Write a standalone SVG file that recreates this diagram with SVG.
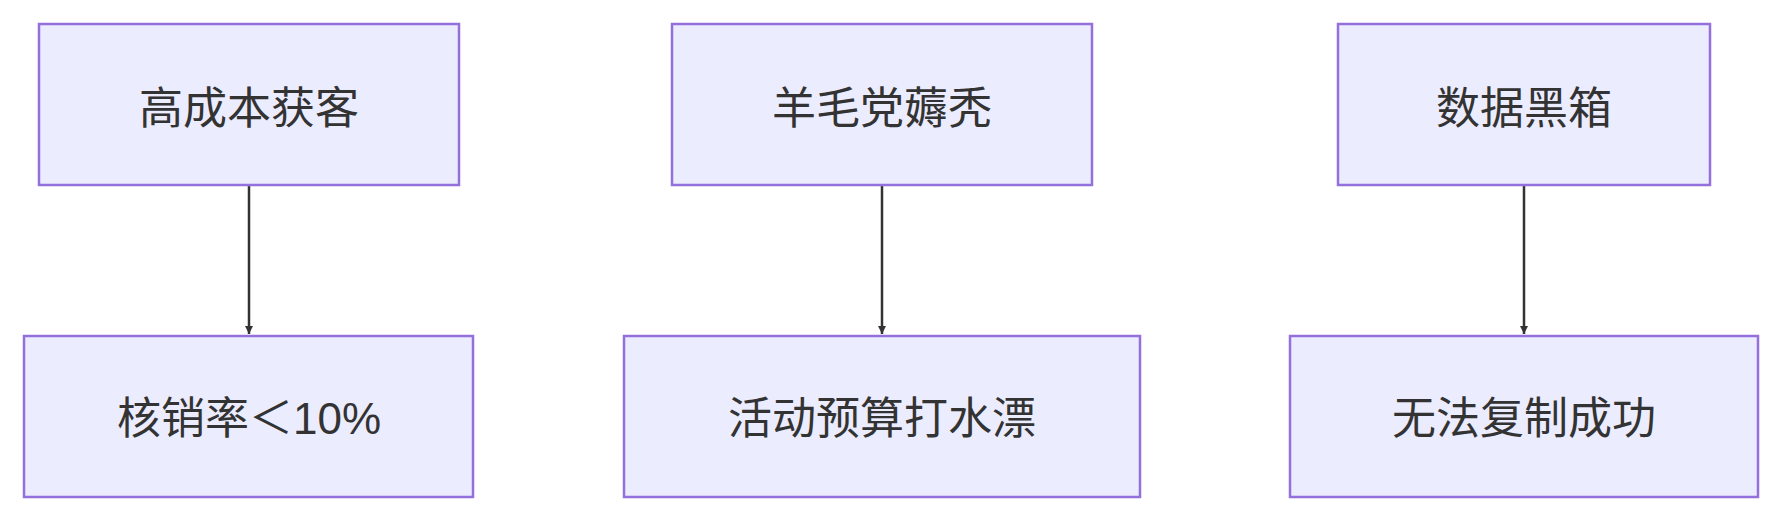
<svg xmlns="http://www.w3.org/2000/svg" width="1782" height="522" viewBox="0 0 1782 522">
<defs>
<style>
.n{fill:#ECECFF;stroke:#9370DB;stroke-width:2.5}
.t{font-family:"Liberation Sans","Noto Sans CJK SC",sans-serif;font-size:44px;fill:#333;text-anchor:middle;dominant-baseline:central}
.e{stroke:#333;stroke-width:2.5;fill:none}
</style>
<marker id="a" viewBox="0 0 10 10" refX="10" refY="5" markerWidth="8" markerHeight="9" markerUnits="userSpaceOnUse" orient="auto"><path d="M0 0L10 5L0 10z" fill="#333"/></marker>
</defs>
<rect width="1782" height="522" fill="#fff"/>
<g id="edges">
<path class="e" d="M249 185V334" marker-end="url(#a)"/>
<path class="e" d="M882 185V334" marker-end="url(#a)"/>
<path class="e" d="M1524 185V334" marker-end="url(#a)"/>
</g>
<g id="n1"><rect class="n" x="39" y="24" width="420" height="161"/><text class="t" x="249" y="108">高成本获客</text></g>
<g id="n2"><rect class="n" x="672" y="24" width="420" height="161"/><text class="t" x="882" y="108">羊毛党薅秃</text></g>
<g id="n3"><rect class="n" x="1338" y="24" width="372" height="161"/><text class="t" x="1524" y="108">数据黑箱</text></g>
<g id="n4"><rect class="n" x="24" y="336" width="449" height="161"/><text class="t" x="249" y="418">核销率＜10%</text></g>
<g id="n5"><rect class="n" x="624" y="336" width="516" height="161"/><text class="t" x="882" y="418">活动预算打水漂</text></g>
<g id="n6"><rect class="n" x="1290" y="336" width="468" height="161"/><text class="t" x="1524" y="418">无法复制成功</text></g>
</svg>
